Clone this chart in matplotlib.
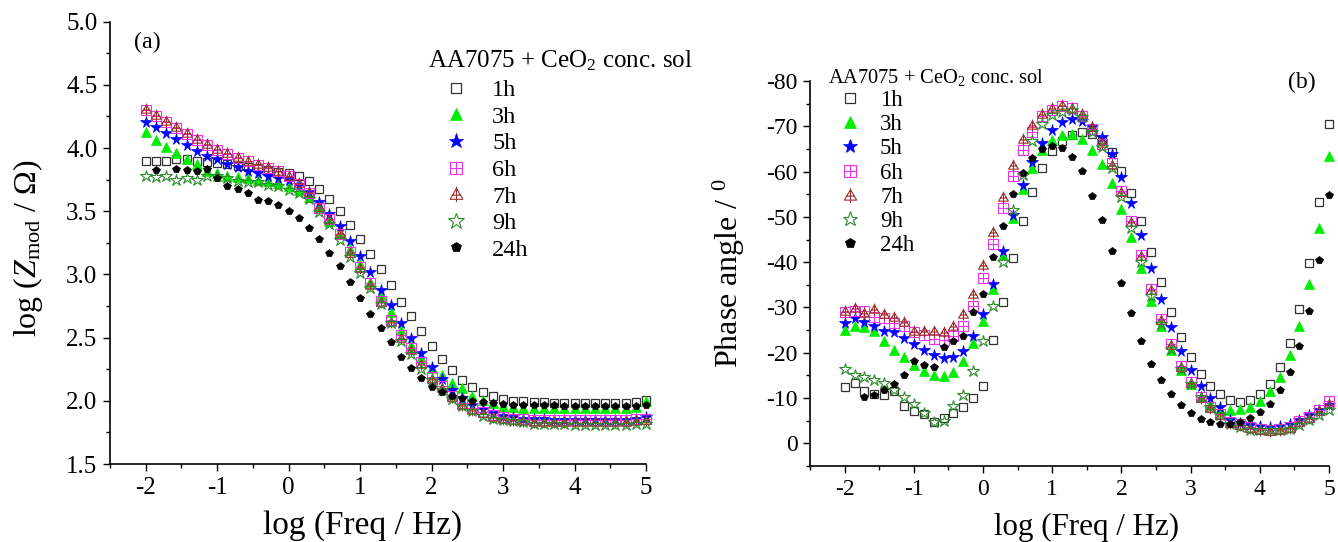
"""
Bode: log|Z| y ángulo de fase para AA7075 en solución concentrada de CeO2.
"""

import numpy as np
import matplotlib
matplotlib.use("Agg")
import matplotlib.pyplot as plt
from matplotlib.path import Path
from matplotlib.ticker import MultipleLocator

plt.rcParams['font.family'] = ['Liberation Serif', 'DejaVu Serif']
plt.rcParams['mathtext.fontset'] = 'custom'
plt.rcParams['mathtext.rm'] = 'Liberation Serif'
plt.rcParams['mathtext.it'] = 'Liberation Serif:italic'
plt.rcParams['axes.unicode_minus'] = False

NAN = np.nan

# barrido: 7 puntos por década, de 10^-2 a 10^5 Hz
log_freq = [-2.000, -1.857, -1.714, -1.571, -1.429, -1.286, -1.143, -1.000, -0.857, -0.714,
            -0.571, -0.429, -0.286, -0.143, 0.000, 0.143, 0.286, 0.429, 0.571, 0.714,
            0.857, 1.000, 1.143, 1.286, 1.429, 1.571, 1.714, 1.857, 2.000, 2.143,
            2.286, 2.429, 2.571, 2.714, 2.857, 3.000, 3.143, 3.286, 3.429, 3.571,
            3.714, 3.857, 4.000, 4.143, 4.286, 4.429, 4.571, 4.714, 4.857, 5.000]

horas = ['1h', '3h', '5h', '6h', '7h', '9h', '24h']

# log(Zmod / ohm)
logz_1h = [3.90, 3.90, 3.90, 3.91, 3.91, 3.90, 3.89, 3.88, 3.87, 3.86,
           3.85, 3.84, 3.83, 3.81, 3.80, 3.78, 3.74, 3.68, 3.595, 3.50,
           3.39, 3.28, 3.16, 3.045, 2.92, 2.78, 2.67, 2.55, 2.43, 2.33,
           2.245, 2.165, 2.11, 2.07, 2.035, 2.015, 2.00, 1.995, 1.99, 1.99,
           1.985, 1.985, 1.985, 1.98, 1.98, 1.98, 1.98, 1.985, 1.99, 2.01]
logz_3h = [4.13, 4.065, 4.01, 3.96, 3.91, 3.87, 3.82, 3.80, 3.78, 3.77,
           3.76, 3.745, 3.74, 3.72, 3.70, 3.67, 3.61, 3.53, 3.42, 3.32,
           3.20, 3.08, 2.94, 2.84, 2.705, 2.56, 2.44, 2.34, 2.26, 2.205,
           2.14, 2.10, 2.04, 2.01, 1.98, 1.96, 1.95, 1.945, 1.94, 1.94,
           1.94, 1.94, 1.94, 1.94, 1.94, 1.94, 1.94, 1.945, 1.95, 2.00]
logz_5h = [4.21, 4.168, 4.118, 4.07, 4.024, 3.98, 3.94, 3.91, 3.87, 3.85,
           3.82, 3.805, 3.78, 3.76, 3.744, 3.705, 3.65, 3.574, 3.48, 3.38,
           3.265, 3.147, 3.02, 2.88, 2.758, 2.613, 2.495, 2.38, 2.27, 2.174,
           2.087, 2.02, 1.963, 1.937, 1.90, 1.88, 1.87, 1.86, 1.855, 1.855,
           1.85, 1.85, 1.85, 1.85, 1.85, 1.85, 1.85, 1.85, 1.855, 1.87]
logz_6h = [4.30, 4.25, 4.205, 4.16, 4.11, 4.065, 4.025, 3.985, 3.955, 3.925,
           3.895, 3.865, 3.845, 3.815, 3.775, 3.715, 3.645, 3.525, 3.435, 3.32,
           3.18, 3.06, 2.93, 2.79, 2.64, 2.52, 2.416, 2.31, 2.19, 2.118,
           2.04, 1.98, 1.942, 1.91, 1.885, 1.87, 1.86, 1.855, 1.85, 1.85,
           1.845, 1.845, 1.845, 1.845, 1.845, 1.845, 1.845, 1.85, 1.855, 1.86]
logz_7h = [4.31, 4.26, 4.215, 4.17, 4.12, 4.07, 4.03, 3.99, 3.96, 3.93,
           3.90, 3.87, 3.85, 3.82, 3.78, 3.72, 3.65, 3.53, 3.44, 3.33,
           3.17, 3.05, 2.92, 2.78, 2.62, 2.50, 2.40, 2.29, 2.17, 2.10,
           2.03, 1.97, 1.93, 1.90, 1.87, 1.855, 1.845, 1.84, 1.835, 1.835,
           1.83, 1.83, 1.83, 1.83, 1.83, 1.83, 1.83, 1.835, 1.84, 1.845]
logz_9h = [3.775, 3.77, 3.775, 3.745, 3.765, 3.745, 3.78, 3.775, 3.76, 3.74,
           3.735, 3.73, 3.71, 3.70, 3.665, 3.645, 3.60, 3.495, 3.40, 3.27,
           3.14, 3.01, 2.894, 2.77, 2.613, 2.476, 2.37, 2.25, 2.166, 2.087,
           2.016, 1.96, 1.916, 1.88, 1.86, 1.85, 1.84, 1.83, 1.82, 1.82,
           1.815, 1.815, 1.81, 1.81, 1.81, 1.81, 1.81, 1.81, 1.815, 1.82]
logz_24h = [NAN, 3.83, NAN, 3.833, 3.83, 3.815, 3.833, 3.76, 3.70, 3.68,
            3.645, 3.59, 3.58, 3.55, 3.50, 3.45, 3.37, 3.28, 3.17, 3.07,
            2.94, 2.81, 2.69, 2.574, 2.466, 2.345, 2.258, 2.18, 2.113, 2.068,
            2.04, 2.02, 2.00, 1.99, 1.98, 1.975, 1.97, 1.97, 1.965, 1.965,
            1.965, 1.96, 1.96, 1.96, 1.96, 1.96, 1.96, 1.96, 1.96, 1.965]

# ángulo de fase (grados)
fase_1h = [-12.4, -13.3, -11.5, -11.0, -10.6, -11.5, -8.2, -7.1, -6.4, -4.8,
           -5.7, -6.8, -8.0, -10.1, -12.7, -22.9, -31.1, -41.0, -49.1, -55.5,
           -60.7, -64.5, -66.8, -68.0, -68.8, -68.4, -66.8, -64.4, -60.2, -55.2,
           -49.1, -42.3, -35.7, -29.1, -23.5, -19.0, -15.4, -12.6, -11.0, -9.6,
           -9.1, -9.6, -11.0, -13.2, -16.8, -22.1, -29.6, -39.8, -53.3, -70.4]
fase_3h = [-25.1, -26.0, -25.7, -24.9, -22.6, -20.7, -19.0, -17.2, -15.9, -15.0,
           -14.9, -15.7, -18.2, -22.2, -27.1, -34.1, -41.6, -49.7, -56.1, -60.7,
           -64.8, -67.0, -68.1, -68.3, -67.3, -64.8, -61.7, -57.4, -51.7, -45.5,
           -38.7, -31.5, -26.0, -20.7, -16.1, -13.0, -10.2, -8.6, -7.6, -7.3,
           -7.5, -8.0, -9.3, -11.5, -14.6, -19.4, -26.0, -35.2, -47.6, -63.5]
fase_5h = [-26.6, -27.7, -26.9, -26.0, -24.9, -24.6, -23.3, -22.0, -20.7, -19.6,
           -18.8, -19.0, -20.5, -23.8, -28.6, -35.2, -42.5, -50.4, -57.0, -62.2,
           -66.4, -69.2, -70.9, -71.6, -71.2, -69.9, -67.6, -63.9, -58.9, -53.0,
           -46.1, -38.8, -31.9, -25.7, -20.3, -16.1, -12.6, -10.1, -8.0, -5.2,
           -4.5, -4.0, -3.75, -3.6, -3.8, -4.2, -5.1, -6.2, -7.3, -8.4]
fase_6h = [-29.0, -29.3, -29.3, -28.0, -27.7, -26.5, -26.0, -24.6, -24.0, -23.1,
           -22.9, -23.8, -26.0, -30.4, -36.5, -44.1, -51.9, -59.1, -64.8, -68.8,
           -72.3, -73.7, -74.5, -74.0, -72.3, -69.5, -66.1, -61.8, -55.8, -49.1,
           -41.6, -34.1, -27.5, -22.0, -17.0, -13.5, -10.2, -8.0, -6.5, -4.7,
           -4.3, -3.6, -3.2, -2.9, -3.1, -3.6, -4.9, -5.8, -7.4, -9.3]
fase_7h = [-29.3, -29.9, -28.8, -29.7, -28.5, -28.0, -26.8, -24.8, -24.8, -24.7,
           -24.6, -25.8, -28.5, -33.0, -39.3, -46.7, -54.4, -61.4, -67.3, -70.3,
           -72.6, -74.1, -74.7, -74.0, -72.6, -69.9, -66.4, -61.5, -55.5, -48.8,
           -41.3, -33.8, -27.2, -21.8, -16.8, -13.3, -10.0, -7.8, -6.3, -4.5,
           -4.1, -3.4, -3.0, -2.8, -3.0, -3.5, -4.7, -5.7, -7.2, -8.6]
fase_9h = [-16.5, -15.2, -14.6, -13.9, -13.4, -11.7, -10.2, -8.75, -6.7, -4.7,
           -4.9, -8.2, -10.6, -16.0, -22.7, -30.3, -40.1, -51.6, -59.2, -66.8,
           -70.6, -72.5, -73.2, -73.6, -72.1, -68.8, -65.5, -60.7, -54.4, -47.6,
           -40.1, -32.6, -26.4, -20.9, -16.5, -13.0, -10.2, -8.0, -6.2, -4.2,
           -3.6, -3.0, -2.9, -2.9, -2.9, -3.2, -4.1, -5.1, -6.3, -7.3]
fase_24h = [NAN, NAN, -10.2, -10.7, -11.8, -13.0, -15.0, -18.2, -17.2, -16.8,
            -21.3, -22.5, -23.8, -29.0, -33.0, -41.2, -48.0, -55.0, -59.7, -62.9,
            -65.0, -65.7, -65.1, -63.3, -60.2, -54.7, -49.3, -42.5, -35.3, -28.8,
            -22.7, -17.6, -13.9, -10.8, -8.4, -6.7, -5.4, -4.7, -4.3, -4.3,
            -4.7, -5.6, -6.9, -8.75, -11.7, -15.7, -21.6, -29.3, -40.5, -54.8]

logz = [logz_1h, logz_3h, logz_5h, logz_6h, logz_7h, logz_9h, logz_24h]
fase = [fase_1h, fase_3h, fase_5h, fase_6h, fase_7h, fase_9h, fase_24h]

# marcadores "cuadrado con cruz" y "triángulo con cruz"
M, L, C = Path.MOVETO, Path.LINETO, Path.CLOSEPOLY
cuadrado_cruz = Path([(-1, -1), (1, -1), (1, 1), (-1, 1), (-1, -1),
                      (0, -1), (0, 1), (-1, 0), (1, 0)],
                     [M, L, L, L, C, M, L, M, L])
triangulo_cruz = Path([(-1, -0.75), (1, -0.75), (0, 0.95), (-1, -0.75),
                       (0, -1.2), (0, 1.2), (-0.6, -0.1), (0.6, -0.1)],
                      [M, L, L, C, M, L, M, L])

estilos = [
    dict(marker='s', mfc='none', mec='#333333', ms=5.5, mew=0.9),
    dict(marker='^', mfc='#00ee00', mec='#00ee00', ms=6.5, mew=0.5),
    dict(marker='*', mfc='#0000ff', mec='#0000ff', ms=8.5, mew=0.5),
    dict(marker=cuadrado_cruz, mfc='none', mec='#ee33ee', ms=7, mew=0.8),
    dict(marker=triangulo_cruz, mfc='none', mec='#a03030', ms=8.5, mew=0.8),
    dict(marker='*', mfc='none', mec='#2e8b2e', ms=9, mew=0.8),
    dict(marker='p', mfc='black', mec='black', ms=6, mew=0.5),
]


def formato_ejes(ax, tam_ticks):
    for lado in ('top', 'right'):
        ax.spines[lado].set_visible(False)
    for lado in ('left', 'bottom'):
        ax.spines[lado].set_linewidth(1.2)
    ax.tick_params(which='major', direction='out', length=5, width=1.0,
                   labelsize=tam_ticks, pad=4)
    ax.tick_params(which='minor', direction='out', length=3, width=1.0)
    ax.xaxis.set_major_locator(MultipleLocator(1))
    ax.xaxis.set_minor_locator(MultipleLocator(0.5))


fig = plt.figure(figsize=(13.38, 5.42), dpi=100)
ax1 = fig.add_axes([0.0822, 0.1439, 0.4006, 0.8161])
ax2 = fig.add_axes([0.6054, 0.1402, 0.3879, 0.7104])

# (a) modulo de impedancia
for h, y, st in zip(horas, logz, estilos):
    ax1.plot(log_freq, y, linestyle='none', label=h, clip_on=False, **st)
ax1.set_xlim(-2.5, 5.0)
ax1.set_ylim(1.5, 5.0)
ax1.yaxis.set_major_locator(MultipleLocator(0.5))
ax1.yaxis.set_minor_locator(MultipleLocator(0.25))
ax1.yaxis.set_major_formatter(matplotlib.ticker.FormatStrFormatter('%.1f'))
formato_ejes(ax1, 18)
ax1.set_xlabel('log (Freq / Hz)', fontsize=24)
ax1.xaxis.set_label_coords(0.472, -0.104)
ax1.set_ylabel(r'log ($Z_{\mathrm{mod}}$ / Ω)', fontsize=23)
ax1.yaxis.set_label_coords(-0.121, 0.488)
ax1.text(0.069, 0.954, '(a)', transform=ax1.transAxes, fontsize=17.3,
         ha='center', va='center')
ax1.text(0.593, 0.896, 'AA7075 + CeO$_2$ conc. sol', transform=ax1.transAxes,
         fontsize=18, ha='left', va='baseline')
ax1.legend(loc='upper left', bbox_to_anchor=(0.623, 0.870), frameon=False,
           fontsize=17.5, handlelength=1.0, handletextpad=0.98,
           labelspacing=0.19, borderpad=0, borderaxespad=0,
           markerscale=1.3, numpoints=1)

# (b) angulo de fase
for h, y, st in zip(horas, fase, estilos):
    ax2.plot(log_freq, y, linestyle='none', label=h, clip_on=False, **st)
ax2.set_xlim(-2.5, 5.0)
ax2.set_ylim(5, -80)
ax2.yaxis.set_major_locator(MultipleLocator(10))
ax2.yaxis.set_minor_locator(MultipleLocator(5))
formato_ejes(ax2, 17)
ax2.set_xlabel('log (Freq / Hz)', fontsize=22.3)
ax2.xaxis.set_label_coords(0.532, -0.122)
ax2.set_ylabel('Phase angle / $^0$', fontsize=23)
ax2.yaxis.set_label_coords(-0.121, 0.5)
ax2.text(0.948, 0.995, '(b)', transform=ax2.transAxes, fontsize=17,
         ha='center', va='center')
ax2.text(0.035, 0.995, 'AA7075 + CeO$_2$ conc. sol', transform=ax2.transAxes,
         fontsize=14.7, ha='left', va='baseline')
ax2.legend(loc='upper left', bbox_to_anchor=(0.055, 0.977), frameon=False,
           fontsize=16.5, handlelength=1.0, handletextpad=0.81,
           labelspacing=0.14, borderpad=0, borderaxespad=0,
           markerscale=1.25, numpoints=1)

fig.savefig('out.png', dpi=100)
